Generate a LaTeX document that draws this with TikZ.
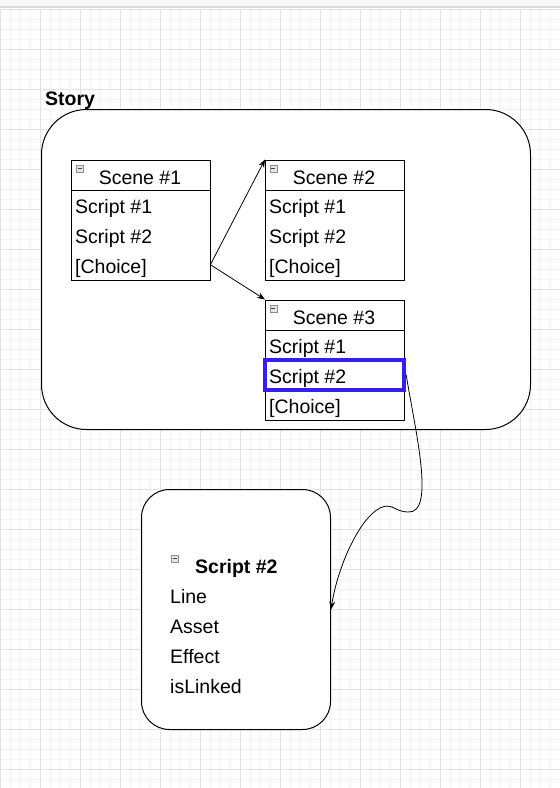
\documentclass[tikz,border=0pt]{standalone}
\usepackage{fontspec}
\setmainfont{Liberation Sans}
\usetikzlibrary{calc,arrows.meta}
\definecolor{gridminor}{HTML}{F3F3F3}
\definecolor{gridmajor}{HTML}{E2E2E2}
\definecolor{topband}{HTML}{F8F8F8}
\definecolor{topline}{HTML}{DADADA}
\definecolor{hlblue}{RGB}{52,30,240}
\definecolor{iconborder}{HTML}{8C8C9C}
\definecolor{iconfill}{HTML}{E4E4EC}
\begin{document}
\begin{tikzpicture}[x=1pt,y=-1pt,
  rowbox/.style={draw=black, fill=white, line width=1pt, minimum width=139pt, minimum height=30pt, anchor=north west, inner sep=0pt},
  bodybox/.style={draw=black, fill=white, line width=1pt, minimum width=139pt, minimum height=90pt, anchor=north west, inner sep=0pt},
  rowcell/.style={minimum width=139pt, minimum height=30pt, anchor=north west, inner sep=0pt},
  hlbox/.style={draw=hlblue, line width=4pt, minimum width=139pt, minimum height=30pt, inner sep=0pt},
  container/.style={draw=black, fill=white, line width=1pt, anchor=north west, inner sep=0pt},
  txt/.style={anchor=base west, inner sep=0pt, font=\fontsize{19.5}{23}\selectfont},
  htxt/.style={anchor=base, inner sep=0pt, font=\fontsize{19.5}{23}\selectfont},
  btxt/.style={anchor=base west, inner sep=0pt, font=\fontsize{19.5}{23}\selectfont\bfseries},
  icon/.style={draw=iconborder, fill=iconfill, line width=0.6pt, minimum size=7pt, inner sep=0pt, anchor=north west,
    path picture={\draw[black!75, line width=0.9pt] ([xshift=1.5pt]path picture bounding box.west) -- ([xshift=-1.5pt]path picture bounding box.east);}},
  arr/.style={draw=black, line width=0.8pt, -{Stealth[length=8pt,width=6pt]}}
]
\useasboundingbox (0,0) rectangle (560,788);
% background grid
\fill[white] (0,0) rectangle (560,788);
\foreach \x in {0,10,...,560} \draw[gridminor, line width=1pt] (\x,9) -- (\x,788);
\foreach \y in {9,19,...,788} \draw[gridminor, line width=1pt] (0,\y) -- (560,\y);
\foreach \x in {0,40,...,560} \draw[gridmajor, line width=1pt] (\x,9) -- (\x,788);
\foreach \y in {9,49,...,788} \draw[gridmajor, line width=1pt] (0,\y) -- (560,\y);
\fill[topband] (0,0) rectangle (560,6);
\draw[topline, line width=1.8pt] (0,7) -- (560,7);

% Story container
\node[container, rounded corners=45pt, minimum width=489pt, minimum height=320pt] (story) at (41,109) {};
\node[btxt] (storylabel) at (45,105) {Story};

% Scene #1
\node[rowbox] (s1h) at (71,159.5) {};
\node[bodybox] (s1b) at (71,189.5) {};
\node[rowcell] (s1r1) at (71,189.5) {};
\node[rowcell] (s1r2) at (71,219.5) {};
\node[rowcell] (s1r3) at (71,249.5) {};
\node[icon] (s1i) at (76,165) {};
\node[htxt] (s1ht) at ($(s1h.south)+(-1,-6)$) {Scene \#1};
\node[txt] (s1t1) at ($(s1r1.south west)+(4,-6.5)$) {Script \#1};
\node[txt] (s1t2) at ($(s1r2.south west)+(4,-6.5)$) {Script \#2};
\node[txt] (s1t3) at ($(s1r3.south west)+(4,-6.5)$) {[Choice]};

% Scene #2
\node[rowbox] (s2h) at (265,159.5) {};
\node[bodybox] (s2b) at (265,189.5) {};
\node[rowcell] (s2r1) at (265,189.5) {};
\node[rowcell] (s2r2) at (265,219.5) {};
\node[rowcell] (s2r3) at (265,249.5) {};
\node[icon] (s2i) at (269.5,165) {};
\node[htxt] (s2ht) at ($(s2h.south)+(-1,-6)$) {Scene \#2};
\node[txt] (s2t1) at ($(s2r1.south west)+(4,-6.5)$) {Script \#1};
\node[txt] (s2t2) at ($(s2r2.south west)+(4,-6.5)$) {Script \#2};
\node[txt] (s2t3) at ($(s2r3.south west)+(4,-6.5)$) {[Choice]};

% Scene #3
\node[rowbox] (s3h) at (265,299.5) {};
\node[bodybox] (s3b) at (265,329.5) {};
\node[rowcell] (s3r1) at (265,329.5) {};
\node[rowcell] (s3r2) at (265,359.5) {};
\node[rowcell] (s3r3) at (265,389.5) {};
\node[icon] (s3i) at (269.5,305) {};
\node[htxt] (s3ht) at ($(s3h.south)+(-1,-6)$) {Scene \#3};
\node[txt] (s3t1) at ($(s3r1.south west)+(4,-6.5)$) {Script \#1};
\node[txt] (s3t2) at ($(s3r2.south west)+(4,-6.5)$) {Script \#2};
\node[txt] (s3t3) at ($(s3r3.south west)+(4,-6.5)$) {[Choice]};
\node[hlbox] (hl) at (s3r2.center) {};

% Script #2 detail box
\node[container, rounded corners=28pt, minimum width=189pt, minimum height=240pt] (sb) at (141,489) {};
\node[icon] (sbi) at (171,555) {};
\node[btxt] (sbt) at (195,573) {Script \#2};
\node[txt] (sb1) at (170,603) {Line};
\node[txt] (sb2) at (170,633) {Asset};
\node[txt] (sb3) at (170,663) {Effect};
\node[txt] (sb4) at (170,693) {isLinked};

% connectors
\draw[arr] (s1r3.east) -- (s2h.north west);
\draw[arr] (s1r3.east) -- (s3h.north west);
\draw[arr] (hl.east) .. controls (415,430) and (436,514) .. (408,512)
  .. controls (395,512) and (392,502) .. (380,508)
  .. controls (360,518) and (338,565) .. (sb.east);
\end{tikzpicture}
\end{document}
